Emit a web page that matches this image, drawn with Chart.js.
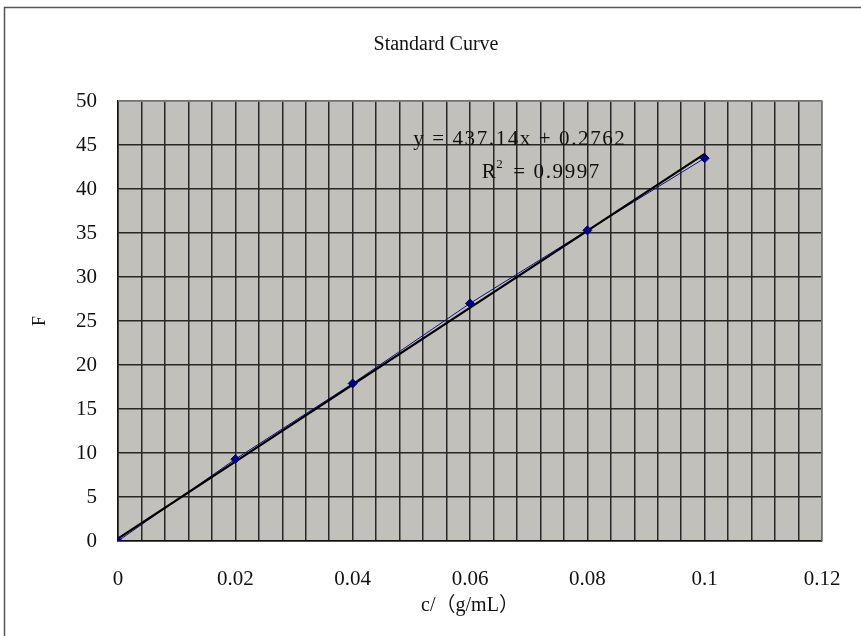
<!DOCTYPE html>
<html>
<head>
<meta charset="utf-8">
<script src="https://cdn.jsdelivr.net/npm/chart.js@4"></script>
<style>
  html, body { margin: 0; padding: 0; background: #fff; }
  #wrap { width: 861px; height: 636px; position: relative; }
</style>
</head>
<body>
<div id="wrap"><canvas id="curveChart"></canvas></div>
<script>
// ── data ──
const concs       = [0, 0.02, 0.04, 0.06, 0.08, 0.1];
const fValues     = [0, 9.3, 17.9, 27.0, 35.3, 43.5];
const trendX      = [0, 0.1];
const trendY      = [0.28, 43.99];
const xTickLabels = ['0', '0.02', '0.04', '0.06', '0.08', '0.1', '0.12'];
const yTickLabels = ['0', '5', '10', '15', '20', '25', '30', '35', '40', '45', '50'];
const eqLine      = 'y = 437.14x + 0.2762';
const r2Value     = ' = 0.9997';

const SERIF = '"Liberation Serif", "DejaVu Serif", "Noto Sans CJK SC", serif';
const PLOT_BG = '#c2c0ba';
const GRID = '#262626';

const pts = (xs, ys) => xs.map((x, i) => ({ x, y: ys[i] }));

// plot background + outer frame + title
const frame = {
  id: 'frame',
  beforeDraw(chart) {
    const { ctx, chartArea: a } = chart;
    ctx.save();
    ctx.fillStyle = PLOT_BG;
    ctx.fillRect(a.left, a.top, a.right - a.left, a.bottom - a.top);
    ctx.strokeStyle = '#555';
    ctx.lineWidth = 1.5;
    ctx.strokeRect(4.5, 7.5, 1000, 1000);
    ctx.fillStyle = '#111';
    ctx.font = '20px ' + SERIF;
    ctx.textAlign = 'center';
    ctx.textBaseline = 'middle';
    ctx.fillText('Standard Curve', 436, 45);
    ctx.restore();
  },
  afterDraw(chart) {
    const { ctx, chartArea: a } = chart;
    ctx.save();
    ctx.strokeStyle = '#8a8a8a';
    ctx.lineWidth = 1.5;
    ctx.beginPath();
    ctx.moveTo(a.left, a.top);
    ctx.lineTo(a.right, a.top);
    ctx.lineTo(a.right, a.bottom);
    ctx.stroke();
    ctx.restore();
  }
};

// trendline equation, anchored in data coordinates
const equation = {
  id: 'equation',
  afterDatasetsDraw(chart) {
    const { ctx, scales: { x, y } } = chart;
    ctx.save();
    ctx.fillStyle = '#111';
    ctx.font = '21px ' + SERIF;
    ctx.letterSpacing = '1.6px';
    ctx.textBaseline = 'middle';
    ctx.textAlign = 'center';
    ctx.fillText(eqLine, x.getPixelForValue(0.0685), y.getPixelForValue(45.6));
    // R² line
    const rx = x.getPixelForValue(0.062), ry = y.getPixelForValue(41.9);
    ctx.textAlign = 'left';
    ctx.fillText('R', rx, ry);
    const rw = ctx.measureText('R').width;
    ctx.font = '13px ' + SERIF;
    ctx.fillText('2', rx + rw - 1, ry - 8);
    const sw = ctx.measureText('2').width;
    ctx.font = '21px ' + SERIF;
    ctx.fillText(r2Value, rx + rw + sw + 1, ry);
    ctx.restore();
  }
};

new Chart(document.getElementById('curveChart'), {
  type: 'scatter',
  data: {
    datasets: [
      { // markers on top
        data: pts(concs, fValues), showLine: false,
        pointStyle: 'rectRot', pointRadius: 4.5, pointHoverRadius: 4.5,
        backgroundColor: '#00007a', borderColor: '#00007a', borderWidth: 1
      },
      { // linear trendline
        data: pts(trendX, trendY), showLine: true,
        borderColor: '#000', borderWidth: 2.2, pointRadius: 0, tension: 0
      },
      { // connecting line of the measured points
        data: pts(concs, fValues), showLine: true,
        borderColor: '#10108a', borderWidth: 1, pointRadius: 0, tension: 0
      }
    ]
  },
  options: {
    responsive: true,
    maintainAspectRatio: false,
    animation: false,
    layout: { padding: { top: 101, right: 39, left: 0, bottom: 0 } },
    plugins: { legend: { display: false }, tooltip: { enabled: false } },
    scales: {
      x: {
        type: 'linear', min: 0, max: 0.12,
        afterBuildTicks: s => { s.ticks = []; for (let i = 0; i <= 30; i++) s.ticks.push({ value: i * 0.004 }); },
        afterFit: s => { s.height = 95; s.paddingLeft = 0; s.paddingRight = 0; },
        ticks: {
          autoSkip: false, maxRotation: 0, padding: 26, color: '#111',
          font: { family: SERIF, size: 21 },
          callback: (v, i) => (i % 5 === 0 ? xTickLabels[i / 5] : '')
        },
        grid: { color: GRID, lineWidth: 1.5, drawTicks: false },
        border: { color: '#111', width: 1.5 },
        title: {
          display: true, text: 'c/（g/mL）', color: '#111',
          font: { family: SERIF, size: 20 }, padding: { top: 0, bottom: 18 }
        }
      },
      y: {
        type: 'linear', min: 0, max: 50,
        afterBuildTicks: s => { s.ticks = yTickLabels.map((_, i) => ({ value: i * 5 })); },
        afterFit: s => { s.width = 118; s.paddingTop = 0; s.paddingBottom = 0; },
        ticks: {
          padding: 21, color: '#111',
          font: { family: SERIF, size: 21 },
          callback: (v, i) => yTickLabels[i]
        },
        grid: { color: GRID, lineWidth: 1.5, drawTicks: false },
        border: { color: '#111', width: 1.5 },
        title: {
          display: true, text: 'F', color: '#111',
          font: { family: SERIF, size: 18 }, padding: { top: 29, bottom: 0 }
        }
      }
    }
  },
  plugins: [frame, equation]
});
</script>
</body>
</html>
